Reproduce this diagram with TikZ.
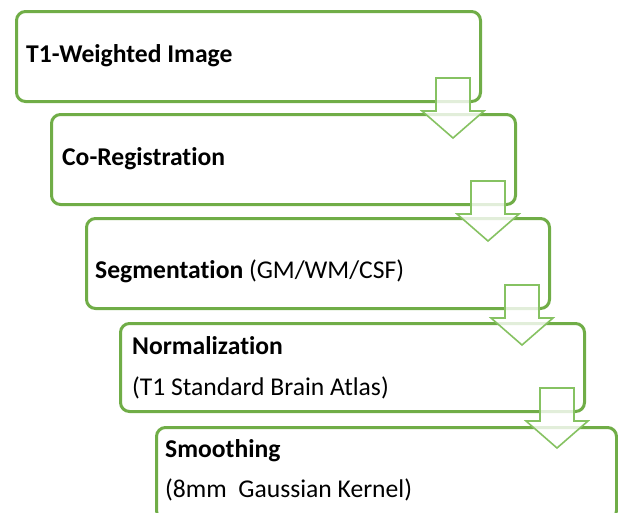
\documentclass[tikz,border=0pt]{standalone}
\usepackage{fontspec}
\setmainfont{Carlito}[Ligatures=NoCommon]
\definecolor{boxgreen}{RGB}{112,173,71}
\definecolor{arrowgreen}{RGB}{134,194,98}
\begin{document}
\begin{tikzpicture}[x=1pt,y=-1pt,
  stage/.style={draw=boxgreen, line width=3pt, rounded corners=9pt, fill=white,
    anchor=north west, inner sep=0pt},
  label/.style={anchor=base west, inner sep=0pt, text=black,
    font=\fontsize{25.6}{30}\selectfont},
  flowarrow/.style={draw=arrowgreen, line width=1.6pt, fill=white,
    fill opacity=0.8, line join=miter}]
\useasboundingbox (0,0) rectangle (618,512);
\clip (0,0) rectangle (618,512);

% pipeline stages
\node[stage, minimum width=464pt, minimum height=90pt] (s1) at (15,10) {};
\node[stage, minimum width=464pt, minimum height=90pt] (s2) at (50,113) {};
\node[stage, minimum width=463pt, minimum height=90pt] (s3) at (85,217) {};
\node[stage, minimum width=464pt, minimum height=88pt] (s4) at (119,322) {};
\node[stage, minimum width=460pt, minimum height=92pt] (s5) at (155,426) {};

% stage labels
\node[label] (t1) at (26,62) {\textbf{T1-Weighted Image}};
\node[label] (t2) at (62,165) {\textbf{Co-Registration}};
\node[label] (t3) at (95,278) {\textbf{Segmentation} (GM/WM/CSF)};
\node[label] (t4) at (132,354) {\textbf{Normalization}};
\node[label] (t4b) at (132,395) {(T1 Standard Brain Atlas)};
\node[label] (t5) at (165,457) {\textbf{Smoothing}};
\node[label] (t5b) at (165,497) {(8mm~ Gaussian Kernel)};

% block arrows from each stage to the next
\foreach \k in {1,...,4} {
  \path (s\k.south east) ++(-29,-25) coordinate (a\k);
  \begin{scope}[shift={(a\k)}]
    \draw[flowarrow] (-17,0) -- (17,0) -- (17,33) -- (31,33) -- (0,60)
      -- (-31,33) -- (-17,33) -- cycle;
  \end{scope}
}
\end{tikzpicture}
\end{document}
